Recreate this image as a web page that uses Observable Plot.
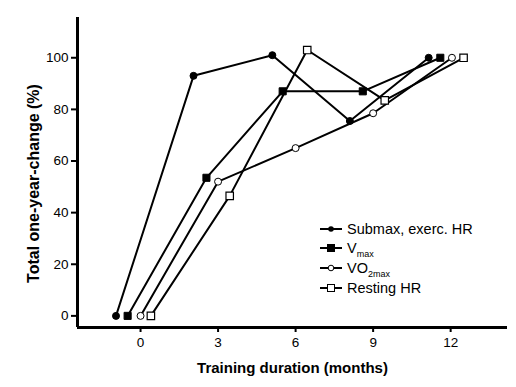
<!DOCTYPE html>
<html>
<head>
<meta charset="utf-8">
<script src="https://cdn.jsdelivr.net/npm/d3@7"></script>
<script src="https://cdn.jsdelivr.net/npm/@observablehq/plot@0.6"></script>
<style>
  html, body { margin: 0; padding: 0; background: #fff; }
  #wrap { position: relative; width: 516px; height: 387px; font-family: "Liberation Sans", Arial, sans-serif; }
  #legend { position: absolute; left: 318px; top: 219px; }
  .row { position: absolute; left: 0; height: 20px; white-space: nowrap; font-size: 14.5px; line-height: 20px; color: #000; }
  .row svg { position: absolute; left: 0; top: 3px; }
  .row span { position: absolute; left: 29px; top: 0; }
  .row sub { font-size: 9px; vertical-align: -4px; line-height: 0; }
</style>
</head>
<body>
<div id="wrap"></div>
<script>
const seriesNames = ["Submax, exerc. HR", "Vmax", "VO2max", "Resting HR"];
const submaxMonths = [-0.95, 2.05, 5.1, 8.1, 11.15];
const submaxValues = [0, 93, 101, 75.5, 100];
const vmaxMonths = [-0.5, 2.55, 5.5, 8.6, 11.6];
const vmaxValues = [0, 53.5, 87, 87, 100];
const vo2Months = [0, 3.0, 6.0, 9.0, 12.05];
const vo2Values = [0, 52, 65, 78.5, 100];
const restMonths = [0.4, 3.45, 6.45, 9.45, 12.5];
const restValues = [0, 46.5, 103, 83.5, 100];
const xTicks = [0, 3, 6, 9, 12];
const yTicks = [0, 20, 40, 60, 80, 100];

const build = (name, xs, ys) => xs.map((x, i) => ({series: name, month: x, value: ys[i]}));
const sSub = build(seriesNames[0], submaxMonths, submaxValues);
const sVmax = build(seriesNames[1], vmaxMonths, vmaxValues);
const sVo2 = build(seriesNames[2], vo2Months, vo2Values);
const sRest = build(seriesNames[3], restMonths, restValues);
const all = [...sSub, ...sVmax, ...sVo2, ...sRest];

const xDom = [-2.44, 14.2];
const yDom = [-4.5, 115.6];

const chart = Plot.plot({
  width: 516,
  height: 387,
  marginLeft: 77,
  marginRight: 9,
  marginTop: 17,
  marginBottom: 60,
  style: {fontFamily: "Liberation Sans, Arial, sans-serif", fontSize: "13.5px", color: "#000", background: "#fff"},
  x: {domain: xDom},
  y: {domain: yDom},
  marks: [
    Plot.axisX({ticks: xTicks, tickSize: 5, tickPadding: 5, strokeWidth: 2, label: null, fontSize: 13.5}),
    Plot.axisY({ticks: yTicks, tickSize: 6, tickPadding: 3, strokeWidth: 2, label: null, fontSize: 13.5}),
    Plot.ruleY([yDom[0]], {stroke: "black", strokeWidth: 3}),
    Plot.ruleX([xDom[0]], {stroke: "black", strokeWidth: 3}),
    Plot.line(all, {x: "month", y: "value", z: "series", stroke: "black", strokeWidth: 2}),
    Plot.dot(sSub, {x: "month", y: "value", symbol: "circle", r: 3.5, fill: "black", stroke: "black", strokeWidth: 1}),
    Plot.dot(sVmax, {x: "month", y: "value", symbol: "square", r: 4, fill: "black", stroke: "black", strokeWidth: 1}),
    Plot.dot(sVo2, {x: "month", y: "value", symbol: "circle", r: 3.5, fill: "white", stroke: "black", strokeWidth: 1}),
    Plot.dot(sRest, {x: "month", y: "value", symbol: "square", r: 4.2, fill: "white", stroke: "black", strokeWidth: 1.2}),
    Plot.text(["Training duration (months)"], {frameAnchor: "bottom", textAnchor: "middle", lineAnchor: "middle", dy: 41, fontSize: 15, fontWeight: "bold", fill: "black"}),
    Plot.text(["Total one-year-change (%)"], {frameAnchor: "left", textAnchor: "middle", lineAnchor: "middle", dx: -44, dy: 11, rotate: -90, fontSize: 16, fontWeight: "bold", fill: "black"})
  ]
});
const wrap = document.getElementById("wrap");
wrap.appendChild(chart);

// legend
const legend = document.createElement("div");
legend.id = "legend";
const rowsDef = [
  {top: 0, sym: "fcircle", html: "Submax, exerc. HR"},
  {top: 19, sym: "fsquare", html: "V<sub>max</sub>"},
  {top: 39, sym: "ocircle", html: "VO<sub>2max</sub>"},
  {top: 59, sym: "osquare", html: "Resting HR"}
];
for (const r of rowsDef) {
  const row = document.createElement("div");
  row.className = "row";
  row.style.top = r.top + "px";
  let mk = "";
  if (r.sym === "fcircle") mk = '<circle cx="13" cy="7" r="2.8" fill="black"/>';
  if (r.sym === "fsquare") mk = '<rect x="9" y="3" width="8" height="8" fill="black"/>';
  if (r.sym === "ocircle") mk = '<circle cx="13" cy="7" r="2.8" fill="white" stroke="black" stroke-width="1"/>';
  if (r.sym === "osquare") mk = '<rect x="9.5" y="3.5" width="7" height="7" fill="white" stroke="black" stroke-width="1"/>';
  row.innerHTML = '<svg width="26" height="14"><line x1="2" x2="24" y1="7" y2="7" stroke="black" stroke-width="2"/>' + mk + '</svg><span>' + r.html + '</span>';
  legend.appendChild(row);
}
wrap.appendChild(legend);
</script>
</body>
</html>
